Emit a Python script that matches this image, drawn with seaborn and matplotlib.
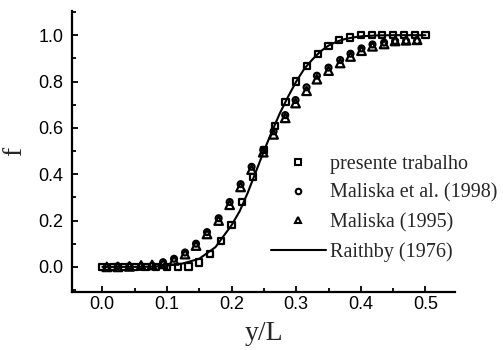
import numpy as np
import pandas as pd
import matplotlib
matplotlib.use("Agg")
import matplotlib.pyplot as plt
import seaborn as sns
from matplotlib.lines import Line2D
from matplotlib.ticker import MultipleLocator

# presente trabalho (squares)
x_presente = [0.0, 0.0167, 0.0333, 0.05, 0.0667, 0.0833, 0.1, 0.1167, 0.1333, 0.15,
              0.1667, 0.1833, 0.2, 0.2167, 0.2333, 0.25, 0.2667, 0.2833, 0.3, 0.3167,
              0.3333, 0.35, 0.3667, 0.3833, 0.4, 0.4167, 0.4333, 0.45, 0.4667, 0.4833, 0.5]
f_presente = [0.0, 0.0, 0.0, 0.0, 0.0, 0.0, 0.0, 0.0, 0.002, 0.019,
              0.055, 0.113, 0.181, 0.279, 0.387, 0.504, 0.609, 0.712, 0.80, 0.866,
              0.918, 0.953, 0.978, 0.99, 1.0, 1.0, 1.0, 1.0, 1.0, 1.0, 1.0]

# Maliska et al. (1998) circles and Maliska (1995) triangles share the same x
x_maliska = [0.007, 0.024, 0.042, 0.060, 0.077, 0.094, 0.111, 0.128, 0.145, 0.162,
             0.180, 0.197, 0.214, 0.231, 0.249, 0.265, 0.283, 0.299, 0.316, 0.332,
             0.350, 0.368, 0.384, 0.401, 0.418, 0.436, 0.453, 0.470, 0.487]
f_maliska98 = [0.0, 0.003, 0.003, 0.003, 0.005, 0.02, 0.035, 0.062, 0.10, 0.15,
               0.21, 0.28, 0.357, 0.432, 0.505, 0.585, 0.655, 0.72, 0.775, 0.825,
               0.86, 0.893, 0.92, 0.943, 0.96, 0.968, 0.975, 0.975, 0.975]
f_maliska95 = [0.0, 0.0, 0.002, 0.006, 0.008, 0.013, 0.028, 0.055, 0.092, 0.142,
               0.20, 0.268, 0.345, 0.42, 0.495, 0.572, 0.643, 0.707, 0.76, 0.81,
               0.847, 0.88, 0.908, 0.933, 0.952, 0.962, 0.975, 0.978, 0.98]

# Raithby (1976) curve
x_raithby = [0.0, 0.025, 0.05, 0.075, 0.1, 0.125, 0.15, 0.175, 0.2, 0.2125, 0.225,
             0.2375, 0.25, 0.2625, 0.275, 0.2875, 0.3, 0.3125, 0.325, 0.3375, 0.35,
             0.3625, 0.375, 0.3875, 0.4, 0.425, 0.45, 0.475, 0.5]
f_raithby = [0.0, 0.0, 0.0, 0.001, 0.005, 0.015, 0.035, 0.085, 0.18, 0.24, 0.32,
             0.41, 0.5, 0.585, 0.665, 0.735, 0.80, 0.855, 0.895, 0.93, 0.955,
             0.972, 0.983, 0.99, 0.995, 0.999, 1.0, 1.0, 1.0]

sns.set_style("ticks")
plt.rcParams["font.family"] = ["Liberation Sans", "DejaVu Sans"]

fig = plt.figure(figsize=(5.03, 3.5), dpi=100)
ax = fig.add_axes([0.143, 0.166, 0.762, 0.803])

sns.lineplot(x=x_raithby, y=f_raithby, ax=ax, color="black", linewidth=1.5, sort=False)
marker_kw = dict(ax=ax, color="black", facecolor="none", edgecolor="black",
                 linewidth=1.6, legend=False)
sns.scatterplot(x=x_maliska, y=f_maliska95, marker="^", s=38, **marker_kw)
sns.scatterplot(x=x_maliska, y=f_maliska98, marker="o", s=18, **marker_kw)
sns.scatterplot(x=x_presente, y=f_presente, marker="s", s=20, **marker_kw)

ax.set_xlim(-0.047, 0.546)
ax.set_ylim(-0.108, 1.105)
ax.set_xticks([0.0, 0.1, 0.2, 0.3, 0.4, 0.5])
ax.set_yticks([0.0, 0.2, 0.4, 0.6, 0.8, 1.0])
ax.xaxis.set_minor_locator(MultipleLocator(0.05))
ax.yaxis.set_minor_locator(MultipleLocator(0.1))
ax.tick_params(which="both", direction="in", width=1.3, labelsize=13, colors="black")
ax.tick_params(which="major", length=4)
ax.tick_params(which="minor", length=3)
ax.tick_params(axis="x", which="both", pad=3)
ax.tick_params(axis="y", which="both", pad=6)
for side in ["left", "bottom"]:
    ax.spines[side].set_linewidth(1.6)
    ax.spines[side].set_color("black")
sns.despine(ax=ax)

serif = {"family": ["Liberation Serif", "DejaVu Serif"]}
ax.set_xlabel("y/L", fontdict=serif, fontsize=20, labelpad=6)
ax.set_ylabel("f", fontdict=serif, fontsize=20, labelpad=8)

mk = dict(color="black", linestyle="none", markerfacecolor="none",
          markeredgewidth=1.5)
handles = [
    Line2D([], [], marker="s", markersize=4, **mk),
    Line2D([], [], marker="o", markersize=4, **mk),
    Line2D([], [], marker="^", markersize=5, **mk),
    Line2D([], [], color="black", linewidth=1.5),
]
labels = ["presente trabalho", "Maliska et al. (1998)", "Maliska (1995)", "Raithby (1976)"]
ax.legend(handles, labels, loc="upper left", bbox_to_anchor=(0.52, 0.489), frameon=False,
          borderpad=0, borderaxespad=0, handlelength=2.7, handletextpad=0.2,
          labelspacing=0.5, prop={"family": ["Liberation Serif"], "size": 14.5})

fig.savefig("out.png", dpi=100)
